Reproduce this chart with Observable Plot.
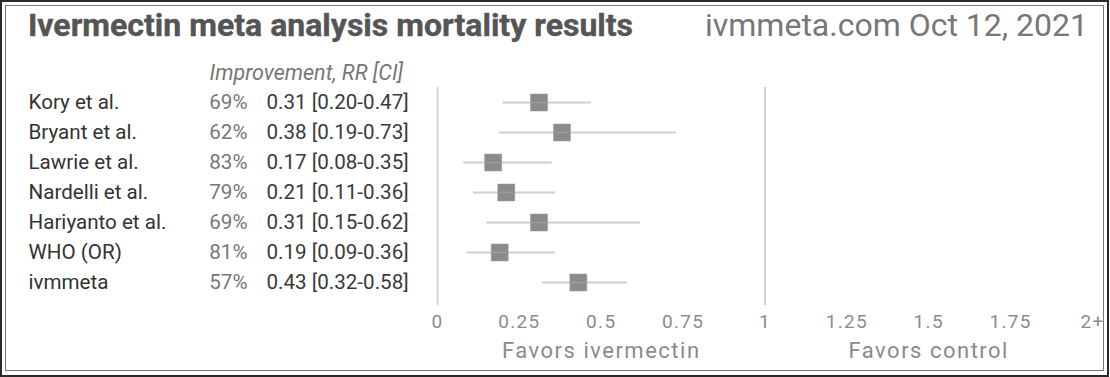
<!DOCTYPE html>
<html>
<head>
<meta charset="utf-8">
<script src="https://cdn.jsdelivr.net/npm/d3@7"></script>
<script src="https://cdn.jsdelivr.net/npm/@observablehq/plot@0.6"></script>
<style>
  html, body { margin: 0; padding: 0; background: #fff; }
  #wrap { position: relative; width: 1110px; height: 377px; overflow: hidden; font-family: Roboto, sans-serif; }
  .outer { position: absolute; left: 0; top: 0; width: 1109px; height: 377px; box-sizing: border-box; border: 2px solid #2a2a2a; }
  .inner { position: absolute; left: 5px; top: 5px; width: 1099px; height: 366px; box-sizing: border-box; border: 1.5px solid #777; }
  .title { position: absolute; left: 28px; top: 9px; font: 700 32px/32px Roboto, sans-serif; color: #555; white-space: nowrap; -webkit-text-stroke: 0.4px #555; }
  .date { position: absolute; right: 22px; top: 9px; font: 400 32px/32px Roboto, sans-serif; color: #777; white-space: nowrap; }
  #chart { position: absolute; left: 0; top: 0; }
  #chart svg g[aria-label="x-axis tick label"] text { letter-spacing: 1.3px; }
  #chart svg .favors text { letter-spacing: 1.5px; }
</style>
</head>
<body>
<div id="wrap">
  <div class="outer"></div>
  <div class="inner"></div>
  <div id="chart"></div>
  <div class="title" id="title"></div>
  <div class="date" id="date"></div>
</div>
<script>
const titleText = "Ivermectin meta analysis mortality results";
const dateText = "ivmmeta.com Oct 12, 2021";
const headerText = ["Improvement, RR [CI]"];

const studies = ["Kory et al.", "Bryant et al.", "Lawrie et al.", "Nardelli et al.", "Hariyanto et al.", "WHO (OR)", "ivmmeta"];
const improvement = ["69%", "62%", "83%", "79%", "69%", "81%", "57%"];
const rr = [0.31, 0.38, 0.17, 0.21, 0.31, 0.19, 0.43];
const ciLow = [0.20, 0.19, 0.08, 0.11, 0.15, 0.09, 0.32];
const ciHigh = [0.47, 0.73, 0.35, 0.36, 0.62, 0.36, 0.58];

const tickValues = [0, 0.25, 0.5, 0.75, 1, 1.25, 1.5, 1.75, 2];
const tickLabels = ["0", "0.25", "0.5", "0.75", "1", "1.25", "1.5", "1.75", "2+"];
const refLines = [0, 1];
const favorLabels = ["Favors ivermectin", "Favors control"];
const favorPos = [0.5, 1.5];

document.getElementById("title").textContent = titleText;
document.getElementById("date").textContent = dateText;

const rows = studies.map((s, i) => ({
  study: s,
  imp: improvement[i],
  rr: rr[i],
  lo: ciLow[i],
  hi: ciHigh[i],
  label: `${rr[i].toFixed(2)} [${ciLow[i].toFixed(2)}-${ciHigh[i].toFixed(2)}]`
}));

const chart = Plot.plot({
  width: 1110,
  height: 377,
  marginLeft: 437,
  marginRight: 18,
  marginTop: 87,
  marginBottom: 80,
  style: { fontFamily: "Roboto, sans-serif", background: "transparent", overflow: "visible" },
  x: { domain: [0, 2] },
  y: { domain: studies, type: "band", padding: 0, axis: null },
  marks: [
    Plot.ruleX(refLines, { x: d => d, stroke: "#d2d2d2", strokeWidth: 2, insetBottom: -8 }),
    Plot.ruleY(rows, { y: "study", x1: "lo", x2: "hi", stroke: "#cfcfcf", strokeWidth: 2 }),
    Plot.dot(rows, { x: "rr", y: "study", symbol: "square", r: 9.6, fill: "#8b8b8b", stroke: "#9a9a9a", strokeWidth: 0.5 }),
    Plot.ruleY(rows, { y: "study", x1: d => d.rr - 0.024, x2: d => d.rr + 0.024, stroke: "#9c9c9c", strokeWidth: 1.5 }),
    Plot.axisX({
      ticks: tickValues,
      tickFormat: d => tickLabels[tickValues.indexOf(d)],
      tickSize: 0,
      tickPadding: 17,
      fontSize: 19,
      color: "#8c8c8c",
      label: null
    }),
    Plot.text(favorLabels, {
      x: favorPos, text: d => d, frameAnchor: "bottom", dy: 60, lineAnchor: "bottom",
      fontSize: 22, fill: "#8a8a8a", className: "favors"
    }),
    Plot.text(headerText, {
      text: d => d, frameAnchor: "top-left", dx: -228, dy: -8, lineAnchor: "bottom",
      textAnchor: "start", fontSize: 21.5, fontStyle: "italic", fill: "#777"
    }),
    Plot.text(rows, { y: "study", text: "study", frameAnchor: "left", dx: -409, textAnchor: "start", fontSize: 20.6, fill: "#333" }),
    Plot.text(rows, { y: "study", text: "imp", frameAnchor: "left", dx: -190, textAnchor: "end", fontSize: 20.6, fill: "#777" }),
    Plot.text(rows, { y: "study", text: "label", frameAnchor: "left", dx: -171, textAnchor: "start", fontSize: 20.6, fill: "#3a3a3a" })
  ]
});
document.getElementById("chart").appendChild(chart);
</script>
</body>
</html>
